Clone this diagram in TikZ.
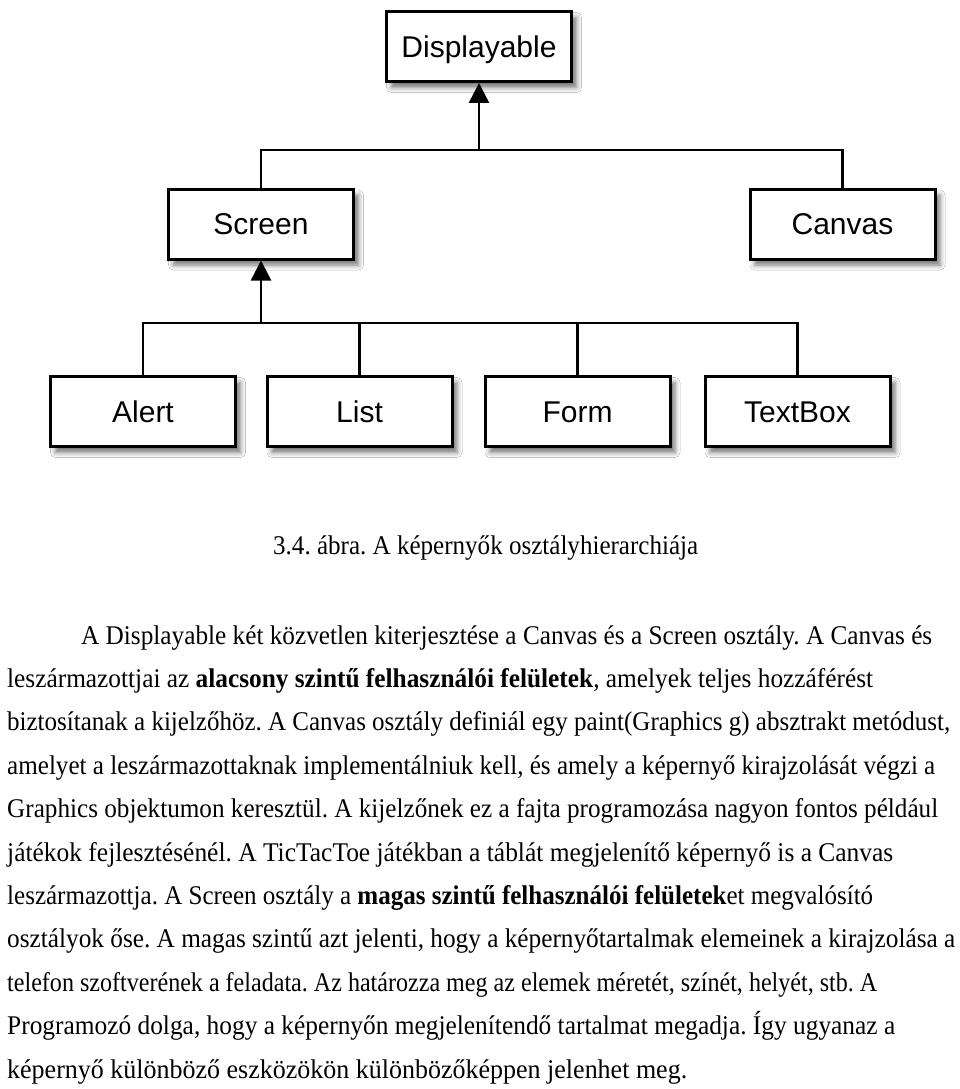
\documentclass[tikz,border=0pt]{standalone}
\usepackage{fontspec}
\setmainfont{Liberation Serif}
\newfontfamily\boxfont{Liberation Sans}
\usetikzlibrary{arrows.meta,shadows.blur}
\newlength\fitlen
\newcommand\fitline[2]{\settowidth\fitlen{#2}\pgfmathsetmacro\fitr{#1/\fitlen}\scalebox{\fitr}[1]{#2}}
\frenchspacing
\begin{document}
\begin{tikzpicture}[x=1pt,y=-1pt,
  cls/.style={draw, line width=3pt, fill=white, minimum width=185pt, minimum height=70pt, inner sep=0pt,
    text height=21.5pt, text depth=0pt,
    font=\boxfont\fontsize{30}{36}\selectfont,
    blur shadow={shadow xshift=5pt, shadow yshift=-6pt, shadow blur radius=5pt, shadow opacity=55}},
  conn/.style={line width=2.5pt},
  inh/.style={conn, -{Triangle[width=20pt,length=20pt]}},
  txt/.style={anchor=base west, inner sep=0pt, font=\fontsize{27}{32}\selectfont\frenchspacing}]
\fill[white] (0,0) rectangle (960,1089);
\useasboundingbox (0,0) rectangle (960,1089);

% classes
\node[cls] (disp) at (479,46.5) {Displayable};
\node[cls] (scr) at (261,224) {Screen};
\node[cls] (can) at (842.5,224) {Canvas};
\node[cls] (alert) at (143,411.5) {Alert};
\node[cls] (list) at (359.5,411.5) {List};
\node[cls] (form) at (577.5,411.5) {Form};
\node[cls] (tbox) at (797.5,411.5) {TextBox};

\coordinate (bus1) at (479,150);
\coordinate (bus2) at (261,323);

\draw[conn] (scr.north) |- (bus1) -| (can.north);
\draw[inh] (bus1) -- (disp.south);
\draw[conn] (alert.north) |- (bus2) -| (tbox.north);
\draw[conn] (list.north) -- (list.north |- bus2);
\draw[conn] (form.north) -- (form.north |- bus2);
\draw[inh] (bus2) -- (scr.south);

% caption
\node[txt] (cap) at (273,554) {\fitline{425}{3.4. ábra. A képernyők osztályhierarchiája}};

% body text
\node[txt] (l1) at (81,644) {\fitline{851}{A Displayable két közvetlen kiterjesztése a Canvas és a Screen osztály. A Canvas és}};
\node[txt] (l2) at (7,687.4) {\fitline{866}{leszármazottjai az \textbf{alacsony szintű felhasználói felületek}, amelyek teljes hozzáférést}};
\node[txt] (l3) at (7,730.8) {\fitline{943}{biztosítanak a kijelzőhöz. A Canvas osztály definiál egy paint(Graphics g) absztrakt metódust,}};
\node[txt] (l4) at (7,774.2) {\fitline{928}{amelyet a leszármazottaknak implementálniuk kell, és amely a képernyő kirajzolását végzi a}};
\node[txt] (l5) at (7,817.6) {\fitline{931}{Graphics objektumon keresztül. A kijelzőnek ez a fajta programozása nagyon fontos például}};
\node[txt] (l6) at (7,861) {\fitline{886}{játékok fejlesztésénél. A TicTacToe játékban a táblát megjelenítő képernyő is a Canvas}};
\node[txt] (l7) at (7,904.4) {\fitline{866}{leszármazottja. A Screen osztály a \textbf{magas szintű felhasználói felületek}et megvalósító}};
\node[txt] (l8) at (7,947.8) {\fitline{948}{osztályok őse. A magas szintű azt jelenti, hogy a képernyőtartalmak elemeinek a kirajzolása a}};
\node[txt] (l9) at (7,991.2) {\fitline{870}{telefon szoftverének a feladata. Az határozza meg az elemek méretét, színét, helyét, stb. A}};
\node[txt] (l10) at (7,1034.6) {\fitline{888}{Programozó dolga, hogy a képernyőn megjelenítendő tartalmat megadja. Így ugyanaz a}};
\node[txt] (l11) at (7,1078) {\fitline{680}{képernyő különböző eszközökön különbözőképpen jelenhet meg.}};
\end{tikzpicture}
\end{document}
